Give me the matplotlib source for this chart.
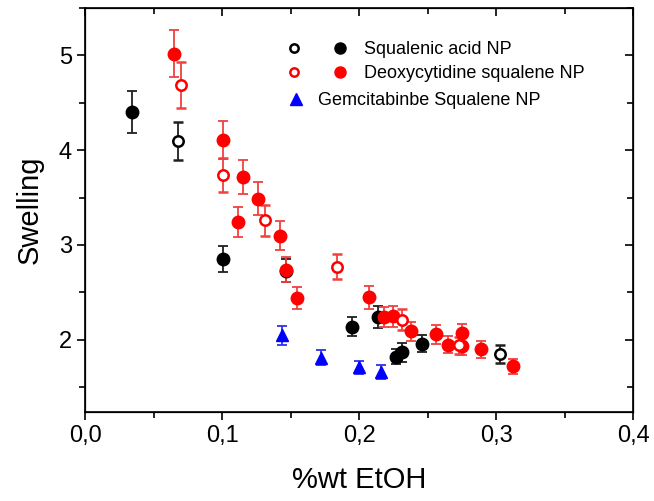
import numpy as np
import matplotlib.pyplot as plt
from matplotlib.ticker import MultipleLocator, FuncFormatter
from matplotlib.legend_handler import HandlerTuple
import matplotlib.lines as mlines

plt.rcParams['font.family'] = ['Liberation Sans', 'DejaVu Sans']

# Squalenic acid NP
sa_x = [0.034, 0.101, 0.147, 0.195, 0.214, 0.227, 0.231, 0.246]
sa_y = [4.40, 2.85, 2.73, 2.14, 2.24, 1.82, 1.87, 1.96]
sa_err = [0.22, 0.14, 0.12, 0.10, 0.12, 0.08, 0.10, 0.09]
sa_open_x = [0.068, 0.303]
sa_open_y = [4.10, 1.85]
sa_open_err = [0.20, 0.09]

# Deoxycytidine squalene NP
dc_x = [0.065, 0.101, 0.112, 0.115, 0.126, 0.142, 0.147, 0.155, 0.207,
        0.218, 0.225, 0.238, 0.256, 0.265, 0.275, 0.275, 0.289, 0.312]
dc_y = [5.02, 4.11, 3.24, 3.72, 3.49, 3.10, 2.74, 2.44, 2.45,
        2.24, 2.25, 2.09, 2.06, 1.95, 2.07, 1.93, 1.90, 1.72]
dc_err = [0.25, 0.20, 0.16, 0.18, 0.17, 0.15, 0.13, 0.12, 0.12,
          0.11, 0.11, 0.10, 0.10, 0.09, 0.10, 0.09, 0.09, 0.08]
dc_open_x = [0.070, 0.101, 0.131, 0.184, 0.231, 0.273]
dc_open_y = [4.69, 3.74, 3.26, 2.77, 2.21, 1.94]
dc_open_err = [0.24, 0.18, 0.16, 0.13, 0.11, 0.09]

# Gemcitabinbe Squalene NP
gem_x = [0.144, 0.172, 0.200, 0.216]
gem_y = [2.05, 1.81, 1.71, 1.66]
gem_err = [0.10, 0.08, 0.07, 0.07]

fig = plt.figure(figsize=(6.54, 5.01), dpi=100)
ax = fig.add_axes([0.130, 0.178, 0.838, 0.806])

eb = dict(linestyle='', capsize=3.5, elinewidth=1.3, capthick=1.3)
ax.errorbar(sa_x, sa_y, yerr=sa_err, fmt='o', color='black', ms=9, ecolor='#202020', **eb)
ax.errorbar(sa_open_x, sa_open_y, yerr=sa_open_err, fmt='o', color='black', mfc='white',
            mew=1.8, ms=7.5, ecolor='#202020', **eb)
ax.errorbar(dc_x, dc_y, yerr=dc_err, fmt='o', color='red', ms=9, ecolor='#f04040', **eb)
ax.errorbar(dc_open_x, dc_open_y, yerr=dc_open_err, fmt='o', color='red', mfc='white',
            mew=1.8, ms=7.5, ecolor='#f04040', **eb)
ax.errorbar(gem_x, gem_y, yerr=gem_err, fmt='^', color='blue', ms=9, ecolor='#3030f0', **eb)

ax.set_xlim(0, 0.4)
ax.set_ylim(1.24, 5.5)
ax.xaxis.set_major_locator(MultipleLocator(0.1))
ax.xaxis.set_minor_locator(MultipleLocator(0.05))
ax.yaxis.set_major_locator(MultipleLocator(1))
ax.yaxis.set_minor_locator(MultipleLocator(0.5))
ax.xaxis.set_major_formatter(FuncFormatter(lambda v, p: f"{v:.1f}".replace('.', ',')))
ax.tick_params(which='both', direction='out', labelsize=17, width=1.2)
ax.tick_params(which='major', length=6)
ax.tick_params(which='minor', length=4)
for s in ax.spines.values():
    s.set_linewidth(1.2)

ax2 = ax.twinx()
ax2.set_ylim(ax.get_ylim())
ax2.yaxis.set_major_locator(MultipleLocator(1))
ax2.yaxis.set_minor_locator(MultipleLocator(0.5))
ax2.tick_params(which='both', direction='in', labelright=False, width=1.2)
ax2.tick_params(which='major', length=6)
ax2.tick_params(which='minor', length=4)
ax3 = ax.twiny()
ax3.set_xlim(ax.get_xlim())
ax3.xaxis.set_major_locator(MultipleLocator(0.1))
ax3.xaxis.set_minor_locator(MultipleLocator(0.05))
ax3.tick_params(which='both', direction='in', labeltop=False, width=1.2)
ax3.tick_params(which='major', length=6)
ax3.tick_params(which='minor', length=4)

ax.set_xlabel('%wt EtOH', fontsize=21, labelpad=14)
ax.set_ylabel('Swelling', fontsize=21, labelpad=11)

# legend
h_sa_o = mlines.Line2D([], [], marker='o', ls='', color='black', mfc='white', mew=1.8, ms=6)
h_sa_f = mlines.Line2D([], [], marker='o', ls='', color='black', ms=8)
h_dc_o = mlines.Line2D([], [], marker='o', ls='', color='red', mfc='white', mew=1.8, ms=6)
h_dc_f = mlines.Line2D([], [], marker='o', ls='', color='red', ms=8)
h_gem = mlines.Line2D([], [], marker='^', ls='', color='blue', ms=8)

leg1 = ax3.legend([(h_sa_o, h_sa_f), (h_dc_o, h_dc_f)],
                  ['Squalenic acid NP', 'Deoxycytidine squalene NP'],
                  handler_map={tuple: HandlerTuple(ndivide=None, pad=0.68)},
                  loc='upper left', bbox_to_anchor=(0.337, 0.936), frameon=False,
                  fontsize=13, handlelength=4.41, handletextpad=0.4, labelspacing=0.4,
                  borderaxespad=0)
ax3.add_artist(leg1)
ax3.legend([h_gem], ['Gemcitabinbe Squalene NP'], loc='upper left',
           bbox_to_anchor=(0.352, 0.809), frameon=False, fontsize=13,
           handlelength=1.2, handletextpad=0.62, borderaxespad=0)

fig.savefig('out.png', dpi=100)
